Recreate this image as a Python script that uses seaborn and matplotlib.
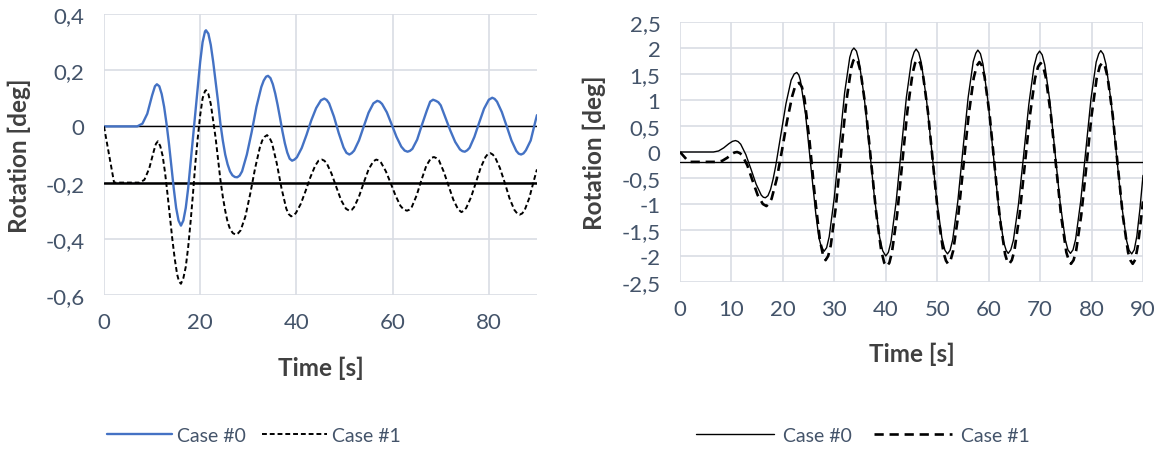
import matplotlib
matplotlib.use("Agg")
import matplotlib.pyplot as plt
import seaborn as sns

# ---- left chart: rotation, Case #0 / Case #1 ----
left_t0 = [0, 6.9, 8.0, 9.0, 10.0, 10.6, 11.0, 11.5, 12.0, 12.5, 13.0, 13.5, 14.0, 14.5, 15.0, 15.5, 16.0, 16.5,
           17.0, 17.5, 18.0, 18.5, 19.0, 19.5, 20.0, 20.5, 21.0, 21.2, 21.7,
           22.2, 22.7, 23.2, 23.7, 24.2, 24.7, 25.2, 25.7, 26.2, 26.7, 27.2, 27.7, 28.2,
           28.7, 29.7, 30.7, 31.7, 32.7, 33.2, 33.7, 34.1, 34.6,
           35.1, 35.6, 36.1, 36.6, 37.1, 37.6, 38.1, 38.6, 39.1, 39.6,
           40.1, 41.1, 42.1, 43.1, 44.1, 45.1, 45.8, 46.3,
           46.8, 47.8, 48.8, 49.8, 50.4, 51.0, 51.5,
           52, 53, 54, 55, 56, 56.8, 57.3,
           57.8, 58.8, 59.8, 60.8, 61.8, 62.5, 63.1, 63.6,
           64.1, 65.1, 66.1, 67.1, 67.8, 68.4, 69.0, 69.5,
           70.0, 71.0, 72.0, 73.0, 74.0, 74.5, 75.0, 75.5,
           76, 77, 78, 79, 80, 80.7, 81.2,
           81.7, 82.7, 83.7, 84.7, 85.7, 86.2, 86.7, 87.2,
           87.7, 88.7, 89.7, 90]
left_v0 = [0, 0, 0.01, 0.045, 0.11, 0.143, 0.15, 0.143, 0.115, 0.07, 0.01, -0.06, -0.14, -0.22, -0.29, -0.335, -0.353, -0.335,
           -0.29, -0.22, -0.13, -0.04, 0.05, 0.14, 0.23, 0.30, 0.338, 0.342, 0.33,
           0.29, 0.23, 0.16, 0.09, 0.01, -0.05, -0.10, -0.135, -0.16, -0.174, -0.18, -0.181, -0.175,
           -0.16, -0.10, -0.02, 0.07, 0.14, 0.163, 0.177, 0.18, 0.172,
           0.15, 0.117, 0.076, 0.03, -0.018, -0.06, -0.093, -0.115, -0.122, -0.118,
           -0.11, -0.077, -0.03, 0.022, 0.065, 0.093, 0.099, 0.094,
           0.082, 0.035, -0.024, -0.075, -0.094, -0.10, -0.095,
           -0.086, -0.05, 0.0, 0.049, 0.082, 0.091, 0.088,
           0.08, 0.05, 0.007, -0.037, -0.072, -0.086, -0.09, -0.087,
           -0.08, -0.047, 0.006, 0.056, 0.088, 0.095, 0.091, 0.086,
           0.075, 0.03, -0.015, -0.055, -0.082, -0.088, -0.09, -0.085,
           -0.076, -0.037, 0.014, 0.063, 0.095, 0.102, 0.098,
           0.088, 0.051, 0.001, -0.05, -0.087, -0.097, -0.10, -0.096,
           -0.085, -0.05, 0.02, 0.04]

left_t1 = [0, 2.1, 7.4, 8.4, 9.4, 10.4, 10.8, 11.2, 11.7, 12.2, 12.7, 13.2, 13.7, 14.2, 14.7, 15.2, 15.6, 16.0, 16.5,
           17.0, 17.5, 18.0, 18.5, 19.0, 19.5, 20.0, 20.5, 21.0, 21.2, 21.7,
           22.2, 22.7, 23.2, 23.7, 24.2, 24.7, 25.2, 25.7, 26.2, 26.8, 27.4, 27.9,
           28.4, 29.4, 30.4, 31.4, 32.4, 32.9, 33.4, 33.9, 34.4,
           34.9, 35.9, 36.9, 37.9, 38.4, 38.9, 39.4,
           39.9, 40.9, 41.9, 42.9, 43.9, 44.6, 45.3, 45.8,
           46.3, 47.3, 48.3, 49.3, 50.3, 51.0, 51.5,
           52, 53, 54, 55, 56, 56.6, 57.1,
           57.6, 58.6, 59.6, 60.6, 61.6, 62.3, 63.0, 63.5,
           64, 65, 66, 67, 68, 68.6, 69.1,
           69.6, 70.6, 71.6, 72.6, 73.6, 74.3, 74.8,
           75.3, 76.3, 77.3, 78.3, 79.3, 79.8, 80.3, 80.8,
           81.3, 82.3, 83.3, 84.3, 85.3, 85.9, 86.4, 86.9,
           87.4, 88.4, 89.4, 90]
left_v1 = [0, -0.2, -0.2, -0.19, -0.15, -0.085, -0.062, -0.053, -0.07, -0.105, -0.165, -0.24, -0.32, -0.40, -0.47, -0.526, -0.552, -0.56, -0.54,
           -0.50, -0.43, -0.34, -0.24, -0.13, -0.04, 0.04, 0.10, 0.126, 0.129, 0.115,
           0.08, 0.02, -0.04, -0.115, -0.19, -0.25, -0.30, -0.34, -0.365, -0.38, -0.385, -0.38,
           -0.37, -0.32, -0.24, -0.15, -0.075, -0.05, -0.037, -0.031, -0.04,
           -0.058, -0.13, -0.22, -0.293, -0.312, -0.32, -0.317,
           -0.308, -0.276, -0.23, -0.181, -0.14, -0.122, -0.118, -0.122,
           -0.131, -0.168, -0.216, -0.263, -0.293, -0.30, -0.297,
           -0.287, -0.25, -0.2, -0.153, -0.124, -0.118, -0.121,
           -0.129, -0.16, -0.202, -0.246, -0.282, -0.296, -0.30, -0.296,
           -0.286, -0.245, -0.19, -0.14, -0.112, -0.109, -0.113,
           -0.12, -0.16, -0.21, -0.26, -0.295, -0.305, -0.30,
           -0.29, -0.252, -0.2, -0.147, -0.109, -0.098, -0.095, -0.10,
           -0.11, -0.148, -0.2, -0.256, -0.297, -0.31, -0.314, -0.31,
           -0.30, -0.255, -0.19, -0.153]

# ---- right chart ----
right_t0 = [0, 6.5, 7.5, 8.5, 9.5, 10.2, 10.8, 11.3, 11.8, 12.8, 13.8, 14.8, 15.8, 16.2, 16.6, 17.1,
            17.6, 18.1, 18.6, 19.6, 20.6, 21.6, 22.2, 22.7, 23.1, 23.4, 24.4, 25.4, 26.4, 27.0, 27.4, 28.0, 28.5,
            29, 30, 31, 32, 33, 33.4, 33.8, 34.3, 34.8, 35.8, 36.8, 37.8, 38.8, 39.4, 40.0, 40.5,
            41, 42, 43, 44, 45, 45.5, 45.9, 46.4, 46.9, 47.9, 48.9, 49.9, 50.9, 51.5, 52.0, 52.5,
            53, 54, 55, 56, 57, 57.5, 57.9, 58.4, 58.9, 59.9, 60.9, 61.9, 62.9, 63.4, 63.8, 64.3,
            64.8, 65.8, 66.8, 67.8, 68.8, 69.4, 69.9, 70.4, 70.9, 71.9, 72.9, 73.9, 74.9, 75.4, 75.9, 76.4,
            76.9, 77.9, 78.9, 79.9, 80.9, 81.4, 81.8, 82.3, 82.8, 83.8, 84.8, 85.8, 86.8, 87.3, 87.8, 88.3,
            88.8, 89.4, 90]
right_v0 = [0, 0, 0.02, 0.08, 0.16, 0.205, 0.22, 0.20, 0.15, -0.05, -0.33, -0.62, -0.83, -0.87, -0.88, -0.84,
            -0.72, -0.52, -0.27, 0.33, 0.93, 1.38, 1.50, 1.53, 1.48, 1.38, 0.73, -0.24, -1.19, -1.65, -1.80, -1.91, -1.84,
            -1.63, -0.87, 0.15, 1.14, 1.82, 1.95, 2.0, 1.94, 1.75, 1.06, 0.10, -0.88, -1.64, -1.90, -2.0, -1.93,
            -1.73, -0.97, 0.04, 1.05, 1.76, 1.92, 1.98, 1.91, 1.72, 1.02, 0.06, -0.92, -1.65, -1.89, -1.96, -1.89,
            -1.69, -0.95, 0.05, 1.04, 1.74, 1.90, 1.96, 1.89, 1.69, 0.95, -0.05, -1.03, -1.73, -1.89, -1.95, -1.88,
            -1.70, -1.00, -0.06, 0.91, 1.64, 1.87, 1.94, 1.87, 1.68, 0.97, -0.01, -0.98, -1.69, -1.88, -1.95, -1.88,
            -1.68, -0.94, 0.05, 1.03, 1.73, 1.89, 1.95, 1.88, 1.69, 0.97, -0.01, -0.98, -1.70, -1.89, -1.96, -1.88,
            -1.62, -1.10, -0.45]

right_t1 = [0, 1.7, 7.2, 8.2, 9.2, 10.2, 10.6, 11.1, 11.6, 12.1, 13.1, 14.1, 15.1, 16.1, 16.8, 17.3,
            17.8, 18.8, 19.8, 20.8, 21.8, 22.4, 22.8, 23.2, 23.7, 24.2, 25.2, 26.2, 27.2, 27.8, 28.3, 28.8,
            29.3, 30.3, 31.3, 32.3, 33.3, 33.7, 34.1, 34.6, 35.1, 36.1, 37.1, 38.1, 39.1, 39.7, 40.2, 40.7,
            41.2, 42.2, 43.2, 44.2, 45.2, 45.7, 46.2, 46.7, 47.2, 48.2, 49.2, 50.2, 51.2, 51.7, 52.1, 52.6,
            53.1, 54.1, 55.1, 56.1, 57.1, 57.7, 58.2, 58.7, 59.2, 60.2, 61.2, 62.2, 63.2, 63.6, 64.0, 64.5,
            65.0, 66.0, 67.0, 68.0, 69.0, 69.6, 70.1, 70.6, 71.1, 72.1, 73.1, 74.1, 75.1, 75.6, 76.0, 76.5,
            77.0, 78.0, 79.0, 80.0, 81.0, 81.6, 82.1, 82.6, 83.1, 84.1, 85.1, 86.1, 87.1, 87.6, 88.0, 88.5,
            89.0, 89.5, 90]
right_v1 = [0, -0.19, -0.19, -0.17, -0.11, -0.03, -0.01, 0.0, -0.02, -0.06, -0.26, -0.55, -0.83, -1.0, -1.04, -0.99,
            -0.90, -0.52, 0.02, 0.59, 1.07, 1.27, 1.31, 1.33, 1.25, 1.02, 0.19, -0.84, -1.70, -1.98, -2.08, -2.0,
            -1.80, -1.05, -0.03, 0.95, 1.63, 1.76, 1.81, 1.73, 1.55, 0.84, -0.14, -1.14, -1.89, -2.13, -2.2, -2.13,
            -1.93, -1.21, -0.21, 0.79, 1.51, 1.71, 1.78, 1.71, 1.51, 0.77, -0.24, -1.23, -1.93, -2.09, -2.15, -2.08,
            -1.90, -1.21, -0.26, 0.70, 1.43, 1.66, 1.73, 1.66, 1.45, 0.70, -0.31, -1.30, -1.97, -2.10, -2.15, -2.08,
            -1.90, -1.21, -0.27, 0.69, 1.41, 1.64, 1.71, 1.64, 1.44, 0.71, -0.27, -1.24, -1.93, -2.09, -2.15, -2.08,
            -1.90, -1.21, -0.27, 0.70, 1.42, 1.65, 1.72, 1.65, 1.45, 0.72, -0.27, -1.24, -1.93, -2.09, -2.15, -2.07,
            -1.80, -1.40, -0.95]

left_hlines = [0.0, -0.2]
right_hline = -0.186

left_xticks = [0, 20, 40, 60, 80]
left_yticks = [-0.6, -0.4, -0.2, 0, 0.2, 0.4]
left_ylabels = ["-0,6", "-0,4", "-0,2", "0", "0,2", "0,4"]
right_xticks = [0, 10, 20, 30, 40, 50, 60, 70, 80, 90]
right_yticks = [-2.5, -2, -1.5, -1, -0.5, 0, 0.5, 1, 1.5, 2, 2.5]
right_ylabels = ["-2,5", "-2", "-1,5", "-1", "-0,5", "0", "0,5", "1", "1,5", "2", "2,5"]

sns.set_theme(style="white")
plt.rcParams["font.family"] = ["Lato", "DejaVu Sans"]

TICK_C = "#44546A"
TITLE_C = "#404040"
GRID_C = "#D9DDE4"

fig = plt.figure(figsize=(11.63, 4.52), dpi=100)
ax1 = fig.add_axes([0.0894, 0.3451, 0.3723, 0.6217])
ax2 = fig.add_axes([0.5847, 0.3739, 0.3981, 0.5752])

# left
ax1.axhline(left_hlines[0], color="black", lw=1.0, zorder=2)
ax1.axhline(left_hlines[1], color="black", lw=1.8, zorder=2)
sns.lineplot(x=left_t0, y=left_v0, ax=ax1, color="#4472C4", lw=1.7, label="Case #0", zorder=3)
sns.lineplot(x=left_t1, y=left_v1, ax=ax1, color="black", lw=1.4, dashes=False,
             linestyle=(0, (2.5, 1.5)), label="Case #1", zorder=3)
ax1.set_xlim(0, 90)
ax1.set_ylim(-0.6, 0.4)
ax1.set_xticks(left_xticks)
ax1.set_yticks(left_yticks)
ax1.set_yticklabels(left_ylabels)

# right
ax2.axhline(right_hline, color="black", lw=1.0, zorder=2)
sns.lineplot(x=right_t0, y=right_v0, ax=ax2, color="black", lw=1.0, label="Case #0", zorder=3)
sns.lineplot(x=right_t1, y=right_v1, ax=ax2, color="black", lw=1.9, dashes=False,
             linestyle=(0, (3.5, 2.2)), label="Case #1", zorder=3)
ax2.set_xlim(0, 90)
ax2.set_ylim(-2.5, 2.5)
ax2.set_xticks(right_xticks)
ax2.set_yticks(right_yticks)
ax2.set_yticklabels(right_ylabels)

for ax in (ax1, ax2):
    ax.grid(True, color=GRID_C, lw=1.2, zorder=0)
    ax.set_axisbelow(True)
    for s in ax.spines.values():
        s.set_visible(False)
    ax.tick_params(axis="both", length=0, labelsize=16, colors=TICK_C)
    ax.tick_params(axis="x", pad=12)
    ax.tick_params(axis="y", pad=14)
    ax.set_xlabel("Time [s]", fontsize=17.5, fontweight="bold", color=TITLE_C)
    ax.set_ylabel("Rotation [deg]", fontsize=17.5, fontweight="bold", color=TITLE_C)
    ax.get_legend().remove()

ax1.xaxis.set_label_coords(0.5, -0.217)
ax1.yaxis.set_label_coords(-0.169, 0.5)
ax2.xaxis.set_label_coords(0.5, -0.231)
ax2.yaxis.set_label_coords(-0.16, 0.5)

h1, l1 = ax1.get_legend_handles_labels()
fig.legend(h1, l1, loc="center", bbox_to_anchor=(254 / 1163, 0.035), ncol=2, frameon=False,
           fontsize=14, labelcolor=TICK_C, handlelength=3.35, columnspacing=0.85, handletextpad=0.25)
h2, l2 = ax2.get_legend_handles_labels()
fig.legend(h2, l2, loc="center", bbox_to_anchor=(863 / 1163, 0.035), ncol=2, frameon=False,
           fontsize=14, labelcolor=TICK_C, handlelength=4.0, columnspacing=1.15, handletextpad=0.45)

fig.savefig("out.png", dpi=100)
